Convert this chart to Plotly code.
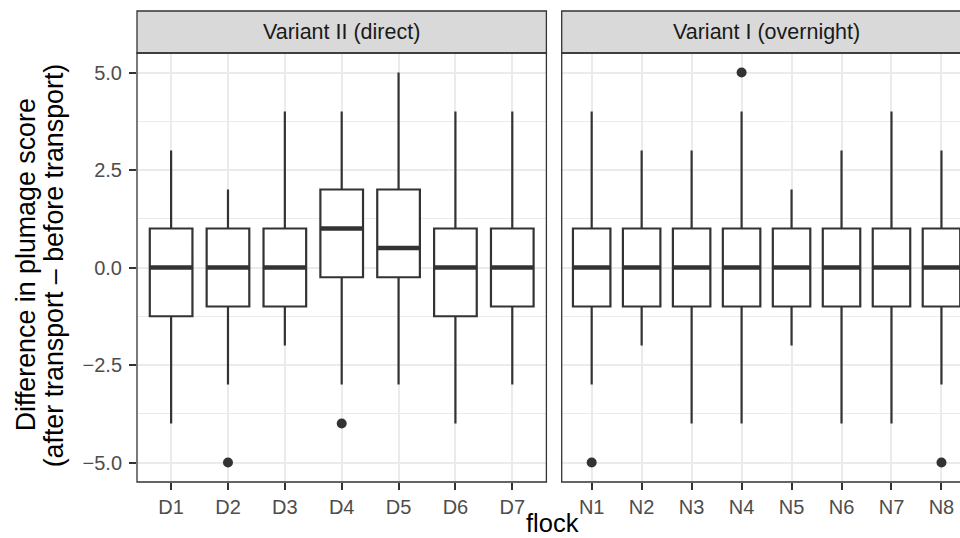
import plotly.graph_objects as go

# ---- data ----
direct_flocks = ["D1", "D2", "D3", "D4", "D5", "D6", "D7"]
direct_q1 = [-1.25, -1, -1, -0.25, -0.25, -1.25, -1]
direct_median = [0, 0, 0, 1, 0.5, 0, 0]
direct_q3 = [1, 1, 1, 2, 2, 1, 1]
direct_lower = [-4, -3, -2, -3, -3, -4, -3]
direct_upper = [3, 2, 4, 4, 5, 4, 4]
direct_out_x = ["D2", "D4"]
direct_out_y = [-5, -4]

overnight_flocks = ["N1", "N2", "N3", "N4", "N5", "N6", "N7", "N8"]
overnight_q1 = [-1, -1, -1, -1, -1, -1, -1, -1]
overnight_median = [0, 0, 0, 0, 0, 0, 0, 0]
overnight_q3 = [1, 1, 1, 1, 1, 1, 1, 1]
overnight_lower = [-3, -2, -4, -4, -2, -4, -4, -3]
overnight_upper = [4, 3, 3, 4, 2, 3, 4, 3]
overnight_out_x = ["N1", "N4", "N8"]
overnight_out_y = [-5, 5, -5]

y_ticks = [-5, -2.5, 0, 2.5, 5]
strip_labels = ["Variant II (direct)", "Variant I (overnight)"]

# ---- style / layout ----
W, H = 960, 538
ML, MR, MT, MB = 137, 0, 53, 56
PW = W - ML - MR
PH = H - MT - MB
dom1 = [0, 409.4 / PW]
dom2 = [(561.7 - ML) / PW, 1.0]
xr1 = [-0.6, 6.6]
xr2 = [-0.6, 7.371]
BOXW = 0.75
DARK = "#333333"
GRID = "#EBEBEB"
FONT = "Liberation Sans, Arial, Helvetica, sans-serif"

px1 = dom1[1] * PW / (xr1[1] - xr1[0])
px2 = (dom2[1] - dom2[0]) * PW / (xr2[1] - xr2[0])

fig = go.Figure()

def add_panel(xs, q1, med, q3, lo, hi, ox, oy, xa, ya, pxu):
    fig.add_trace(go.Box(
        x=xs, q1=q1, median=med, q3=q3, lowerfence=lo, upperfence=hi,
        width=BOXW, whiskerwidth=0, boxpoints=False,
        line=dict(color=DARK, width=2.2), fillcolor="white",
        xaxis=xa, yaxis=ya, showlegend=False, hoverinfo="skip"))
    # thicker median segment: plotly's line-ew symbol is 1.4*size long
    fig.add_trace(go.Scatter(
        x=xs, y=med, mode="markers",
        marker=dict(symbol="line-ew", size=(BOXW * pxu) / 1.4,
                    line=dict(color=DARK, width=4.6)),
        xaxis=xa, yaxis=ya, showlegend=False, hoverinfo="skip"))
    fig.add_trace(go.Scatter(
        x=ox, y=oy, mode="markers",
        marker=dict(color=DARK, size=10),
        xaxis=xa, yaxis=ya, showlegend=False, hoverinfo="skip"))

add_panel(direct_flocks, direct_q1, direct_median, direct_q3, direct_lower,
          direct_upper, direct_out_x, direct_out_y, "x", "y", px1)
add_panel(overnight_flocks, overnight_q1, overnight_median, overnight_q3,
          overnight_lower, overnight_upper, overnight_out_x, overnight_out_y,
          "x2", "y2", px2)

xcommon = dict(type="category", showgrid=True, gridcolor=GRID, gridwidth=2,
               ticks="outside", ticklen=7, tickwidth=2, tickcolor=DARK,
               tickfont=dict(family=FONT, size=20, color="#4D4D4D"),
               showline=False, zeroline=False, fixedrange=True)
ycommon = dict(range=[-5.5, 5.5], tickvals=y_ticks, tickformat=".1f",
               showgrid=True, gridcolor=GRID, gridwidth=2,
               minor=dict(showgrid=True, gridcolor=GRID, gridwidth=1, dtick=1.25,
                          tick0=0),
               zeroline=False, showline=False, fixedrange=True)

fig.update_layout(
    width=W, height=H,
    margin=dict(l=ML, r=MR, t=MT, b=MB),
    paper_bgcolor="white", plot_bgcolor="white",
    boxmode="overlay",
    xaxis=dict(domain=dom1, range=xr1, anchor="y",
               categoryorder="array", categoryarray=direct_flocks, **xcommon),
    xaxis2=dict(domain=dom2, range=xr2, anchor="y2",
                categoryorder="array", categoryarray=overnight_flocks, **xcommon),
    yaxis=dict(anchor="x", ticks="outside", ticklen=7, tickwidth=2,
               tickcolor=DARK, ticklabelstandoff=3,
               tickfont=dict(family=FONT, size=20, color="#4D4D4D"), **ycommon),
    yaxis2=dict(anchor="x2", matches="y", showticklabels=False, ticks="",
                **ycommon),
)

strip_top = 1 + 42 / PH
shapes = []
for d0, d1 in [(dom1[0], dom1[1]), (dom2[0], 1.05)]:
    shapes.append(dict(type="rect", xref="paper", yref="paper", x0=d0, x1=d1,
                       y0=1, y1=strip_top, fillcolor="#D9D9D9",
                       line=dict(color=DARK, width=1.3), layer="above"))
    shapes.append(dict(type="rect", xref="paper", yref="paper", x0=d0, x1=d1,
                       y0=0, y1=1, fillcolor="rgba(0,0,0,0)",
                       line=dict(color=DARK, width=1.3), layer="above"))
fig.update_layout(shapes=shapes)

ann = []
strip_centers = [(dom1[0] + dom1[1]) / 2, (766.8 - ML) / PW]
for lab, cx in zip(strip_labels, strip_centers):
    ann.append(dict(text=lab, x=cx, y=(1 + strip_top) / 2, xref="paper",
                    yref="paper", xanchor="center", yanchor="middle",
                    showarrow=False,
                    font=dict(family=FONT, size=21.5, color="#1A1A1A")))
ann.append(dict(text="flock", x=(552 - ML) / PW, y=-(523 - (MT + PH)) / PH,
                xref="paper", yref="paper", xanchor="center", yanchor="middle",
                showarrow=False, font=dict(family=FONT, size=25.5, color="black")))
ann.append(dict(text="Difference in plumage score", x=(26 - ML) / PW, y=0.505,
                xref="paper", yref="paper", xanchor="center", yanchor="middle",
                textangle=-90, showarrow=False,
                font=dict(family=FONT, size=26.8, color="black")))
ann.append(dict(text="(after transport – before transport)", x=(54 - ML) / PW,
                y=0.505, xref="paper", yref="paper", xanchor="center",
                yanchor="middle", textangle=-90, showarrow=False,
                font=dict(family=FONT, size=26.8, color="black")))
fig.update_layout(annotations=ann)

fig.write_html("out.html", config={"displayModeBar": False},
               post_script="document.body.style.margin='0px';"
                           "document.body.style.overflow='hidden';")
